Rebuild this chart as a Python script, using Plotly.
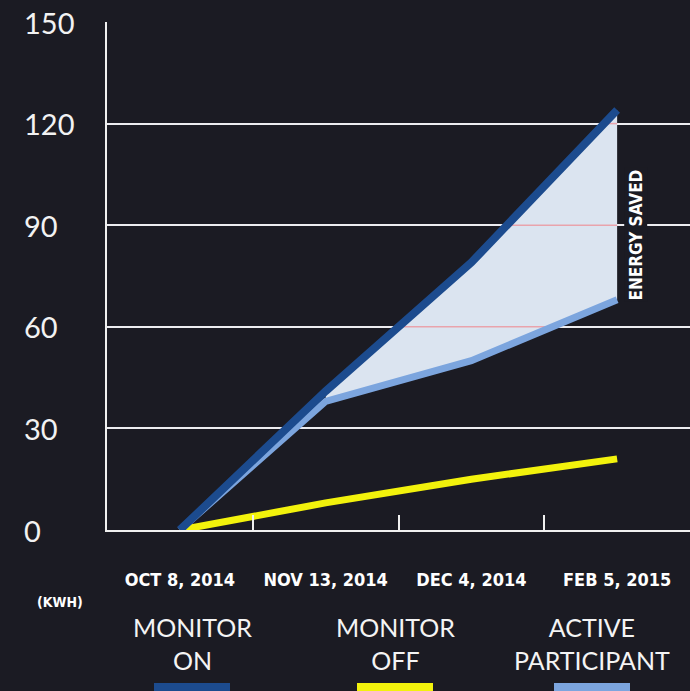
import numpy as np
import plotly.graph_objects as go

DATES = ["OCT 8, 2014", "NOV 13, 2014", "DEC 4, 2014", "FEB 5, 2015"]
MONITOR_ON = [0, 41, 79, 124]
MONITOR_OFF = [0, 8, 15, 21]
ACTIVE = [0, 38, 50, 68]
Y_TICKS = [0, 30, 60, 90, 120, 150]
SERIES_NAMES = ["MONITOR ON", "MONITOR OFF", "ACTIVE PARTICIPANT"]
UNIT = "(KWH)"
NOTE = "ENERGY SAVED"

BG = "#1b1b23"
C_ON = "#1c4b8e"
C_OFF = "#f2f20c"
C_ACT = "#7ca5de"
C_FILL = "#dbe4f0"
C_PINK = "#e9a3ac"
NARROW = "Liberation Sans Narrow, DejaVu Sans Condensed, sans-serif"
ROUND = "Lato, Open Sans, sans-serif"

W, H = 690, 691
ML, MR, MT, MB = 107, 0, 22, 161
PW, PH = W - ML - MR, H - MT - MB

def px(x):
    return (x - ML) / PW

def py(y):
    return (H - MB - y) / PH

idx = list(range(len(DATES)))
fig = go.Figure()

# shaded "energy saved" region between ON and ACTIVE from second date on
s = 1
fx = idx[s:] + idx[s:][::-1]
fy = MONITOR_ON[s:] + ACTIVE[s:][::-1]
fig.add_trace(go.Scatter(x=fx, y=fy, fill="toself", fillcolor=C_FILL,
                         line=dict(width=0), mode="lines", hoverinfo="skip"))

# gridlines seen through the shaded area (pinkish)
on_a, act_a = np.array(MONITOR_ON, float), np.array(ACTIVE, float)
sx, sy = [], []
for L in Y_TICKS:
    if ACTIVE[s] < L <= MONITOR_ON[-1]:
        x0 = max(float(np.interp(L, on_a, idx)), s)
        x1 = min(float(np.interp(L, act_a, idx)), idx[-1])
        sx += [x0, x1, None]
        sy += [L, L, None]
fig.add_trace(go.Scatter(x=sx, y=sy, mode="lines", line=dict(color=C_PINK, width=1.5),
                         hoverinfo="skip"))

fig.add_trace(go.Scatter(x=idx, y=MONITOR_OFF, mode="lines", line=dict(color=C_OFF, width=7)))
fig.add_trace(go.Scatter(x=idx, y=ACTIVE, mode="lines", line=dict(color=C_ACT, width=7)))
fig.add_trace(go.Scatter(x=idx, y=MONITOR_ON, mode="lines", line=dict(color=C_ON, width=8)))

annotations = []
# y tick labels (left aligned)
for t in Y_TICKS:
    annotations.append(dict(x=px(22), xref="paper", y=t, yref="y", text=str(t),
                            xanchor="left", yanchor="middle", showarrow=False,
                            font=dict(family=ROUND, size=29, color="#f2f2f2")))

annotations.append(dict(x=3.13, xref="x", y=87, yref="y", text=NOTE, textangle=-90,
                        showarrow=False, bgcolor=BG, borderpad=1,
                        font=dict(family=NARROW, size=17, color="#ffffff", weight="bold")))

annotations.append(dict(x=px(35), xref="paper", y=py(612), yref="paper", text=UNIT,
                        showarrow=False,
                        font=dict(family=NARROW, size=14, color="#ffffff", weight="bold")))

centers = [192, 395, 592]
colors = [C_ON, C_OFF, C_ACT]
shapes = []
for name, cx, col in zip(SERIES_NAMES, centers, colors):
    first, rest = name.split(" ", 1)
    annotations.append(dict(x=px(cx), xref="paper", y=py(643), yref="paper",
                            text=first + "<br>" + rest,
                            showarrow=False, xanchor="center", yanchor="middle", align="center",
                            font=dict(family=ROUND, size=25, color="#f4f4f4")))
    shapes.append(dict(type="rect", xref="paper", yref="paper",
                       x0=px(cx - 38), x1=px(cx + 38), y0=py(695), y1=py(683),
                       fillcolor=col, line=dict(width=0)))

fig.update_layout(
    width=W, height=H, margin=dict(l=ML, r=MR, t=MT, b=MB),
    paper_bgcolor=BG, plot_bgcolor=BG, showlegend=False,
    annotations=annotations, shapes=shapes,
    xaxis=dict(range=[-0.5, 3.5], tickmode="array", tickvals=idx, ticktext=DATES,
               ticks="", showgrid=False, zeroline=False, showline=True,
               linecolor="#f0f0f0", linewidth=2, ticklabelstandoff=32,
               tickfont=dict(family=NARROW, size=18, color="#ffffff", weight="bold"),
               minor=dict(tickmode="array", tickvals=[0.5, 1.5, 2.5], ticks="inside",
                          ticklen=15, tickwidth=2, tickcolor="#f0f0f0", showgrid=False),
               fixedrange=True),
    yaxis=dict(range=[0, 150], tickmode="array", tickvals=Y_TICKS, showticklabels=False,
               showgrid=True, gridcolor="#ececf0", gridwidth=2, zeroline=False,
               showline=True, linecolor="#f0f0f0", linewidth=2, ticks="", fixedrange=True),
)

fig.write_html("out.html", config={"displayModeBar": False},
               post_script="document.body.style.margin='0';document.body.style.overflow='hidden';document.documentElement.style.background='" + BG + "';")
